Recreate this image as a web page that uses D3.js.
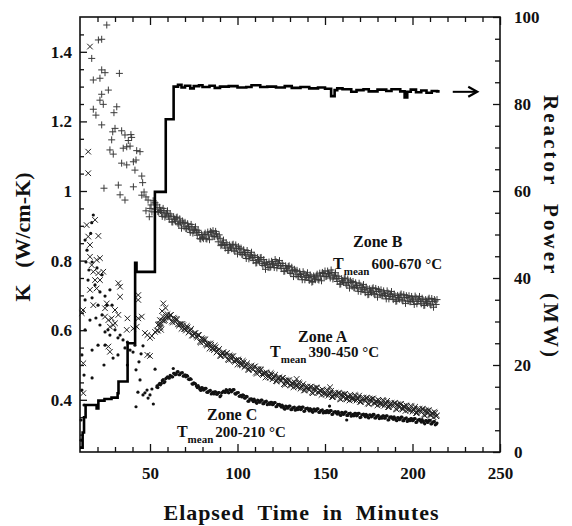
<!DOCTYPE html>
<html><head><meta charset="utf-8">
<script src="https://cdn.jsdelivr.net/npm/d3@7"></script>
<style>body{margin:0;background:#fff}svg{display:block}</style>
</head><body><svg id="c" width="572" height="526"></svg>
<script>
// ---------- DATA ----------
const xTicks = [50, 100, 150, 200, 250];
const xMinor = [20, 30, 40, 60, 70, 80, 90, 110, 120, 130, 140, 160, 170, 180, 190, 210, 220, 230, 240];
const kTicks = [0.4, 0.6, 0.8, 1, 1.2, 1.4];
const kMinor = [0.3, 0.35, 0.45, 0.5, 0.55, 0.65, 0.7, 0.75, 0.85, 0.9, 0.95, 1.05, 1.1, 1.15, 1.25, 1.3, 1.35, 1.45];
const pTicks = [0, 20, 40, 60, 80, 100];
const pMinor = [5, 10, 15, 25, 30, 35, 45, 50, 55, 65, 70, 75, 85, 90, 95];

// readings on the whole minute
const bandTime = [54,55,56,57,58,59,60,61,62,63,64,65,66,67,68,69,70,71,72,73,74,75,76,77,78,79,80,81,82,83,84,85,86,87,88,89,90,91,92,93,94,95,96,97,98,99,100,101,102,103,104,105,106,107,108,109,110,111,112,113,114,115,116,117,118,119,120,121,122,123,124,125,126,127,128,129,130,131,132,133,134,135,136,137,138,139,140,141,142,143,144,145,146,147,148,149,150,151,152,153,154,155,156,157,158,159,160,161,162,163,164,165,166,167,168,169,170,171,172,173,174,175,176,177,178,179,180,181,182,183,184,185,186,187,188,189,190,191,192,193,194,195,196,197,198,199,200,201,202,203,204,205,206,207,208,209,210,211,212,213,214];

const zoneB = [0.960,0.939,0.944,0.927,0.943,0.931,0.943,0.919,0.928,0.911,0.919,0.923,0.907,0.920,0.893,0.908,0.910,0.892,0.897,0.881,0.897,0.886,0.897,0.873,0.881,0.862,0.867,0.875,0.863,0.882,0.860,0.881,0.886,0.869,0.877,0.854,0.864,0.846,0.859,0.836,0.846,0.830,0.839,0.845,0.830,0.845,0.819,0.834,0.836,0.817,0.823,0.806,0.823,0.811,0.824,0.800,0.810,0.794,0.803,0.808,0.791,0.803,0.775,0.789,0.796,0.782,0.792,0.780,0.797,0.786,0.800,0.777,0.786,0.770,0.778,0.783,0.767,0.781,0.754,0.770,0.772,0.754,0.760,0.745,0.762,0.752,0.765,0.743,0.754,0.740,0.750,0.756,0.746,0.764,0.742,0.763,0.770,0.755,0.763,0.750,0.766,0.753,0.765,0.740,0.749,0.733,0.742,0.748,0.733,0.747,0.721,0.737,0.740,0.722,0.728,0.712,0.729,0.718,0.731,0.708,0.719,0.703,0.713,0.719,0.705,0.720,0.695,0.712,0.716,0.699,0.705,0.690,0.707,0.697,0.711,0.688,0.699,0.684,0.694,0.701,0.687,0.702,0.677,0.694,0.699,0.682,0.689,0.674,0.693,0.683,0.697,0.676,0.687,0.672,0.682,0.689,0.675,0.691,0.666,0.684,0.688];

const zoneA = [0.599,0.617,0.609,0.628,0.627,0.638,0.646,0.635,0.644,0.622,0.633,0.632,0.617,0.618,0.604,0.614,0.604,0.612,0.593,0.599,0.585,0.590,0.592,0.579,0.586,0.564,0.574,0.574,0.559,0.561,0.547,0.558,0.548,0.556,0.536,0.542,0.527,0.533,0.537,0.525,0.534,0.514,0.525,0.525,0.512,0.514,0.501,0.512,0.504,0.512,0.494,0.500,0.487,0.493,0.498,0.487,0.496,0.475,0.487,0.487,0.474,0.476,0.464,0.476,0.468,0.477,0.459,0.466,0.454,0.460,0.465,0.454,0.463,0.443,0.455,0.456,0.443,0.447,0.436,0.448,0.441,0.450,0.432,0.440,0.427,0.434,0.438,0.428,0.438,0.419,0.432,0.435,0.422,0.426,0.414,0.427,0.419,0.429,0.412,0.420,0.408,0.415,0.420,0.410,0.420,0.401,0.414,0.416,0.404,0.409,0.398,0.411,0.404,0.414,0.398,0.406,0.394,0.401,0.406,0.396,0.406,0.388,0.401,0.403,0.391,0.395,0.384,0.397,0.390,0.400,0.383,0.391,0.379,0.386,0.391,0.381,0.391,0.372,0.385,0.387,0.375,0.379,0.368,0.381,0.373,0.383,0.366,0.374,0.362,0.369,0.374,0.364,0.374,0.355,0.368,0.369,0.357,0.361,0.350,0.362,0.355];

const zoneC = [0.436,0.444,0.443,0.455,0.449,0.461,0.466,0.462,0.468,0.466,0.476,0.474,0.481,0.472,0.477,0.468,0.472,0.470,0.459,0.461,0.446,0.449,0.446,0.435,0.436,0.427,0.434,0.429,0.433,0.421,0.425,0.417,0.422,0.423,0.416,0.421,0.409,0.420,0.425,0.421,0.427,0.420,0.428,0.425,0.429,0.416,0.420,0.410,0.413,0.414,0.405,0.410,0.396,0.402,0.403,0.395,0.398,0.390,0.398,0.394,0.399,0.389,0.394,0.386,0.391,0.393,0.386,0.392,0.380,0.387,0.387,0.379,0.381,0.373,0.381,0.377,0.382,0.372,0.377,0.370,0.376,0.379,0.372,0.379,0.367,0.375,0.376,0.368,0.372,0.364,0.373,0.369,0.374,0.364,0.369,0.362,0.367,0.369,0.363,0.369,0.358,0.365,0.366,0.359,0.362,0.355,0.363,0.360,0.365,0.355,0.360,0.353,0.358,0.361,0.354,0.361,0.349,0.357,0.359,0.351,0.355,0.348,0.356,0.353,0.358,0.348,0.353,0.346,0.351,0.354,0.347,0.354,0.342,0.350,0.351,0.344,0.347,0.340,0.348,0.345,0.350,0.340,0.346,0.338,0.344,0.346,0.340,0.346,0.335,0.342,0.344,0.336,0.339,0.331,0.340,0.336,0.341,0.331,0.336,0.328,0.333];

// readings on the half minute
const bandTimeHalf = [54.5,55.5,56.5,57.5,58.5,59.5,60.5,61.5,62.5,63.5,64.5,65.5,66.5,67.5,68.5,69.5,70.5,71.5,72.5,73.5,74.5,75.5,76.5,77.5,78.5,79.5,80.5,81.5,82.5,83.5,84.5,85.5,86.5,87.5,88.5,89.5,90.5,91.5,92.5,93.5,94.5,95.5,96.5,97.5,98.5,99.5,100.5,101.5,102.5,103.5,104.5,105.5,106.5,107.5,108.5,109.5,110.5,111.5,112.5,113.5,114.5,115.5,116.5,117.5,118.5,119.5,120.5,121.5,122.5,123.5,124.5,125.5,126.5,127.5,128.5,129.5,130.5,131.5,132.5,133.5,134.5,135.5,136.5,137.5,138.5,139.5,140.5,141.5,142.5,143.5,144.5,145.5,146.5,147.5,148.5,149.5,150.5,151.5,152.5,153.5,154.5,155.5,156.5,157.5,158.5,159.5,160.5,161.5,162.5,163.5,164.5,165.5,166.5,167.5,168.5,169.5,170.5,171.5,172.5,173.5,174.5,175.5,176.5,177.5,178.5,179.5,180.5,181.5,182.5,183.5,184.5,185.5,186.5,187.5,188.5,189.5,190.5,191.5,192.5,193.5,194.5,195.5,196.5,197.5,198.5,199.5,200.5,201.5,202.5,203.5,204.5,205.5,206.5,207.5,208.5,209.5,210.5,211.5,212.5,213.5];

const zoneBHalf = [0.941,0.953,0.938,0.950,0.925,0.936,0.928,0.934,0.911,0.926,0.913,0.925,0.903,0.910,0.914,0.897,0.892,0.906,0.891,0.904,0.879,0.890,0.882,0.887,0.863,0.875,0.863,0.879,0.862,0.874,0.884,0.871,0.869,0.884,0.868,0.874,0.843,0.851,0.844,0.851,0.829,0.845,0.834,0.847,0.827,0.835,0.840,0.823,0.818,0.831,0.817,0.829,0.805,0.816,0.809,0.815,0.793,0.809,0.797,0.809,0.786,0.792,0.795,0.780,0.780,0.798,0.788,0.803,0.779,0.792,0.785,0.792,0.769,0.785,0.772,0.785,0.763,0.771,0.775,0.759,0.754,0.768,0.755,0.768,0.745,0.757,0.751,0.759,0.738,0.756,0.745,0.761,0.744,0.756,0.766,0.754,0.754,0.770,0.759,0.773,0.747,0.758,0.749,0.755,0.732,0.748,0.737,0.750,0.729,0.737,0.742,0.726,0.722,0.736,0.722,0.735,0.711,0.723,0.716,0.724,0.702,0.719,0.708,0.722,0.702,0.711,0.717,0.702,0.699,0.713,0.700,0.713,0.690,0.703,0.696,0.704,0.683,0.700,0.689,0.704,0.684,0.693,0.699,0.684,0.682,0.697,0.684,0.698,0.676,0.689,0.683,0.692,0.671,0.688,0.677,0.692,0.672,0.682,0.688,0.674];

const zoneAHalf = [0.599,0.618,0.618,0.639,0.629,0.642,0.638,0.643,0.625,0.636,0.624,0.631,0.613,0.617,0.618,0.603,0.599,0.608,0.596,0.604,0.584,0.591,0.583,0.586,0.567,0.577,0.566,0.573,0.556,0.560,0.562,0.547,0.543,0.551,0.539,0.546,0.526,0.535,0.529,0.533,0.516,0.528,0.517,0.525,0.509,0.514,0.516,0.502,0.499,0.508,0.497,0.505,0.486,0.496,0.490,0.495,0.478,0.489,0.479,0.487,0.471,0.476,0.479,0.466,0.463,0.473,0.462,0.472,0.453,0.463,0.457,0.462,0.445,0.457,0.447,0.456,0.441,0.448,0.451,0.439,0.436,0.446,0.436,0.445,0.427,0.436,0.431,0.437,0.421,0.434,0.425,0.435,0.420,0.426,0.430,0.417,0.415,0.426,0.416,0.426,0.408,0.418,0.413,0.419,0.403,0.416,0.407,0.417,0.402,0.410,0.414,0.402,0.400,0.411,0.402,0.412,0.394,0.404,0.399,0.405,0.389,0.403,0.394,0.404,0.389,0.396,0.400,0.388,0.386,0.397,0.387,0.397,0.379,0.389,0.384,0.390,0.374,0.387,0.378,0.388,0.373,0.380,0.384,0.371,0.369,0.380,0.370,0.380,0.362,0.372,0.367,0.373,0.357,0.370,0.360,0.370,0.355,0.362,0.365,0.353];

const zoneCHalf = [0.435,0.447,0.447,0.458,0.452,0.463,0.464,0.470,0.466,0.476,0.472,0.480,0.472,0.477,0.478,0.469,0.466,0.468,0.458,0.459,0.445,0.447,0.440,0.441,0.430,0.435,0.428,0.433,0.422,0.425,0.427,0.419,0.417,0.423,0.416,0.421,0.412,0.422,0.423,0.429,0.422,0.429,0.423,0.429,0.418,0.420,0.421,0.411,0.408,0.413,0.405,0.409,0.396,0.402,0.399,0.402,0.393,0.399,0.393,0.399,0.389,0.394,0.396,0.388,0.387,0.393,0.387,0.392,0.381,0.386,0.383,0.385,0.376,0.382,0.376,0.382,0.372,0.377,0.379,0.372,0.372,0.379,0.373,0.379,0.368,0.375,0.372,0.375,0.367,0.373,0.368,0.374,0.364,0.369,0.371,0.364,0.363,0.369,0.364,0.369,0.359,0.365,0.362,0.366,0.357,0.364,0.358,0.365,0.355,0.360,0.362,0.355,0.354,0.361,0.355,0.361,0.350,0.357,0.355,0.358,0.350,0.357,0.351,0.358,0.348,0.353,0.355,0.348,0.347,0.354,0.348,0.354,0.343,0.350,0.347,0.351,0.342,0.349,0.343,0.350,0.340,0.345,0.348,0.340,0.340,0.346,0.341,0.346,0.336,0.342,0.340,0.343,0.334,0.340,0.335,0.341,0.331,0.336,0.338,0.330];

// scattered early / outlying readings [minutes, K]
const zoneBEarly = [[25.3,1.477],[20.5,1.434],[22.4,1.436],[16.7,1.381],[22.4,1.348],[24.3,1.340],[17.6,1.319],[21.4,1.324],[32.5,1.338],[26.2,1.290],[22.4,1.278],[21.4,1.261],[23.3,1.249],[17.6,1.235],[19.1,1.218],[31.0,1.242],[29.4,1.225],[22.4,1.190],[30.0,1.180],[28.7,1.170],[33.8,1.173],[35.7,1.161],[39.1,1.162],[28.1,1.147],[37.6,1.145],[39.5,1.154],[27.1,1.118],[29.0,1.106],[34.7,1.123],[36.7,1.127],[38.6,1.129],[42.4,1.116],[44.3,1.113],[33.8,1.080],[36.7,1.075],[40.5,1.084],[42.0,1.089],[41.4,1.060],[45.3,1.043],[45.8,1.024],[23.7,1.008],[31.9,1.017],[32.9,0.989],[35.7,0.974],[40.5,1.012],[45.3,0.988],[47.7,0.983],[46.6,0.997],[48.9,0.974],[49.6,0.926],[47.7,0.943],[50.6,0.960],[51.1,0.940],[52.9,0.966],[50.0,0.950],[53.0,0.948],[51.8,0.972]];

const zoneAEarly = [[15.7,1.415],[14.7,1.113],[14.7,1.051],[13.8,0.902],[14.7,0.869],[15.7,0.845],[20.5,0.871],[18.6,0.917],[15.7,0.811],[16.7,0.787],[19.5,0.802],[21.4,0.807],[17.6,0.768],[20.5,0.764],[23.3,0.768],[18.6,0.744],[21.4,0.744],[19.5,0.720],[15.7,0.716],[17.6,0.672],[11.0,0.649],[11.7,0.658],[25.3,0.677],[24.3,0.663],[31.9,0.735],[32.9,0.725],[32.9,0.696],[30.0,0.658],[31.9,0.644],[24.3,0.639],[26.2,0.629],[28.1,0.634],[29.0,0.615],[27.1,0.610],[30.0,0.620],[26.2,0.553],[27.1,0.538],[37.1,0.634],[43.3,0.701],[43.3,0.687],[11.9,0.505],[11.9,0.419],[36.7,0.601],[40.5,0.605],[42.4,0.610],[45.3,0.639],[43.3,0.634],[47.1,0.592],[48.5,0.586],[50.0,0.578],[51.1,0.583],[52.9,0.595],[48.5,0.529],[50.0,0.526],[57.6,0.677],[58.9,0.664],[56.9,0.655],[54.6,0.615],[55.7,0.629],[56.3,0.601],[133.8,0.460],[152.9,0.436],[195.0,0.382]];

const zoneCEarly = [[16.7,0.909],[17.6,0.931],[16.1,0.878],[12.9,0.859],[14.0,0.830],[13.4,0.796],[15.1,0.773],[16.9,0.796],[19.7,0.779],[22.6,0.759],[14.6,0.744],[18.6,0.730],[21.4,0.710],[12.9,0.687],[16.9,0.693],[20.3,0.672],[24.3,0.698],[27.1,0.716],[25.4,0.672],[28.3,0.672],[22.6,0.644],[19.1,0.635],[15.7,0.629],[21.4,0.615],[24.3,0.595],[27.1,0.586],[26.0,0.601],[30.0,0.601],[31.7,0.578],[32.9,0.586],[34.6,0.572],[37.1,0.566],[35.7,0.549],[38.6,0.543],[40.3,0.537],[41.4,0.557],[20.3,0.557],[24.3,0.557],[28.9,0.520],[31.7,0.529],[37.1,0.500],[16.9,0.543],[12.9,0.601],[11.1,0.529],[12.3,0.471],[11.1,0.428],[12.3,0.385],[10.6,0.342],[10.6,0.284],[16.9,0.463],[23.7,0.500],[44.9,0.532],[46.0,0.555],[43.7,0.509],[42.0,0.486],[44.3,0.457],[43.1,0.422],[46.0,0.414],[42.0,0.380],[48.3,0.428],[50.0,0.414],[51.9,0.388],[52.9,0.488],[63.3,0.490],[54.0,0.440],[48.9,0.405],[47.1,0.420],[51.1,0.431],[152.6,0.382],[162.4,0.342]];

const powerTime = [10,11.5,12.3,13.2,19.5,20.5,24,28,31.5,32,37.2,41.5,42.3,52.8,59,63.5,66,68,70,73,75,78,80,84,87,90,95,100,105,108,113,117,122,127,131,136,141,146,150,153.5,155.5,157,160,165,168,172,175,180,185,188,193,195.5,197,199,202,205,208,211,214,215.5];
const powerMW = [1,4.5,8,10.8,10.0,11.8,12.2,12.5,13.5,16.2,25,43.5,41.4,59.8,76.5,84.0,84.4,83.8,84.2,83.6,84.1,84.3,83.9,84.2,83.7,84.0,84.1,83.8,83.9,84.3,83.9,84.0,83.8,84.1,83.7,83.9,83.6,83.8,83.5,81.8,83.2,83.6,83.4,82.8,83.2,83.4,82.9,83.3,83.0,83.4,82.9,81.5,82.8,83.3,82.7,83.1,82.6,83.0,82.9,82.9];

const zoneNames = ["Zone B", "Zone A", "Zone C"];
const zoneTemps = ["600-670 °C", "390-450 °C", "200-210 °C"];
const zoneNameAt = [[166, 0.838], [134.6, 0.566], [82.6, 0.342]];
const zoneTempAt = [[154.6, 0.776], [118.6, 0.523], [65.4, 0.293]];
const arrowAt = [[223, 82.8], [237, 82.8]];

// ---------- CHART ----------
const svg = d3.select("#c");
const L = 80, R = 500, T = 17, B = 452;
const x = d3.scaleLinear([10, 250], [L, R]);
const yK = d3.scaleLinear([0.25, 1.5], [B, T]);
const yP = d3.scaleLinear([0, 100], [B, T]);
const FONT = "'Liberation Serif', 'Times New Roman', serif";
const ink = "#111";
const NB = "\u00a0";

function styleAxis(g) {
  g.select(".domain").remove();
  g.selectAll("line").attr("stroke", ink).attr("stroke-width", 1.3);
  g.selectAll("text").attr("font-family", FONT).attr("font-weight", "bold")
    .attr("font-size", 17).attr("fill", ink);
}

svg.append("g").attr("transform", `translate(0,${B})`)
  .call(d3.axisBottom(x).tickValues(xTicks).tickFormat(d3.format("d")).tickSizeInner(-8).tickSizeOuter(0).tickPadding(15))
  .call(styleAxis);
svg.append("g").attr("transform", `translate(0,${B})`)
  .call(d3.axisBottom(x).tickValues(xMinor).tickFormat("").tickSizeInner(-5).tickSizeOuter(0))
  .call(styleAxis);
svg.append("g").attr("transform", `translate(0,${T})`)
  .call(d3.axisTop(x).tickValues(xTicks).tickFormat("").tickSizeInner(-8).tickSizeOuter(0))
  .call(styleAxis);
svg.append("g").attr("transform", `translate(0,${T})`)
  .call(d3.axisTop(x).tickValues(xMinor).tickFormat("").tickSizeInner(-5).tickSizeOuter(0))
  .call(styleAxis);
svg.append("g").attr("transform", `translate(${L},0)`)
  .call(d3.axisLeft(yK).tickValues(kTicks).tickFormat(d => d3.format("~g")(d)).tickSizeInner(-7).tickSizeOuter(0).tickPadding(8))
  .call(styleAxis);
svg.append("g").attr("transform", `translate(${L},0)`)
  .call(d3.axisLeft(yK).tickValues(kMinor).tickFormat("").tickSizeInner(-4).tickSizeOuter(0))
  .call(styleAxis);
svg.append("g").attr("transform", `translate(${R},0)`)
  .call(d3.axisRight(yP).tickValues(pTicks).tickFormat(d3.format("d")).tickSizeInner(-7).tickSizeOuter(0).tickPadding(14))
  .call(styleAxis);
svg.append("g").attr("transform", `translate(${R},0)`)
  .call(d3.axisRight(yP).tickValues(pMinor).tickFormat("").tickSizeInner(-5).tickSizeOuter(0))
  .call(styleAxis);

svg.append("rect").attr("x", L).attr("y", T).attr("width", R - L).attr("height", B - T)
  .attr("fill", "none").attr("stroke", ink).attr("stroke-width", 1.6);

// markers
const plusPath = "M-3.5,0H3.5M0,-3.5V3.5";
const crossPath = "M-2.8,-2.8L2.8,2.8M-2.8,2.8L2.8,-2.8";
const pair = (ts, ks) => ts.map((t, i) => [t, ks[i]]);
const bPts = pair(bandTime, zoneB).concat(pair(bandTimeHalf, zoneBHalf), zoneBEarly);
const aPts = pair(bandTime, zoneA).concat(pair(bandTimeHalf, zoneAHalf), zoneAEarly);
const cPts = pair(bandTime, zoneC).concat(pair(bandTimeHalf, zoneCHalf), zoneCEarly);

svg.append("g").selectAll("path").data(bPts).join("path")
  .attr("transform", d => `translate(${x(d[0])},${yK(d[1])})`)
  .attr("d", plusPath).attr("fill", "none").attr("stroke", "#3a3a3a").attr("stroke-width", 1);
svg.append("g").selectAll("path").data(aPts).join("path")
  .attr("transform", d => `translate(${x(d[0])},${yK(d[1])})`)
  .attr("d", crossPath).attr("fill", "none").attr("stroke", "#222").attr("stroke-width", 1);
svg.append("g").selectAll("circle").data(cPts).join("circle")
  .attr("cx", d => x(d[0])).attr("cy", d => yK(d[1])).attr("r", 1.6).attr("fill", "#111");

// reactor power step line
const pw = pair(powerTime, powerMW);
svg.append("path").datum(pw)
  .attr("d", d3.line().x(d => x(d[0])).y(d => yP(d[1])).curve(d3.curveStepAfter))
  .attr("fill", "none").attr("stroke", "#000").attr("stroke-width", 2.6);

// arrow
const ax0 = x(arrowAt[0][0]), ax1 = x(arrowAt[1][0]), ay = yP(arrowAt[0][1]);
svg.append("line").attr("x1", ax0).attr("x2", ax1 - 2).attr("y1", ay).attr("y2", ay)
  .attr("stroke", "#000").attr("stroke-width", 2);
svg.append("path").attr("d", `M${ax1 - 9},${ay - 5}L${ax1},${ay}L${ax1 - 9},${ay + 5}`)
  .attr("fill", "none").attr("stroke", "#000").attr("stroke-width", 2.2);

// zone annotations
zoneNames.forEach((n, i) => {
  svg.append("text").attr("x", x(zoneNameAt[i][0])).attr("y", yK(zoneNameAt[i][1]))
    .attr("font-family", FONT).attr("font-weight", "bold").attr("font-size", 16).attr("fill", ink).text(n);
  const t = svg.append("text").attr("x", x(zoneTempAt[i][0])).attr("y", yK(zoneTempAt[i][1]))
    .attr("font-family", FONT).attr("font-weight", "bold").attr("font-size", 16).attr("fill", ink);
  t.append("tspan").text("T");
  t.append("tspan").attr("dy", 6).attr("font-size", 11).text("mean");
  t.append("tspan").attr("dy", -6).attr("dx", 2).attr("font-size", 15).text(zoneTemps[i]);
});

// axis titles
svg.append("text").attr("x", 301).attr("y", 520).attr("text-anchor", "middle")
  .attr("font-family", FONT).attr("font-weight", "bold").attr("font-size", 22)
  .attr("textLength", 275).attr("lengthAdjust", "spacing").attr("fill", ink)
  .text(`Elapsed${NB}${NB}Time${NB}${NB}in${NB}${NB}Minutes`);
svg.append("text").attr("transform", "translate(30,237) rotate(-90)").attr("text-anchor", "middle")
  .attr("font-family", FONT).attr("font-weight", "bold").attr("font-size", 22)
  .attr("fill", ink).text(`K${NB}${NB}${NB}(W/cm-K)`);
svg.append("text").attr("transform", "translate(544,226) rotate(90)").attr("text-anchor", "middle")
  .attr("font-family", FONT).attr("font-weight", "bold").attr("font-size", 21)
  .attr("textLength", 262).attr("lengthAdjust", "spacing").attr("fill", ink)
  .text(`Reactor${NB}${NB}Power${NB}${NB}(MW)`);
</script></body></html>
